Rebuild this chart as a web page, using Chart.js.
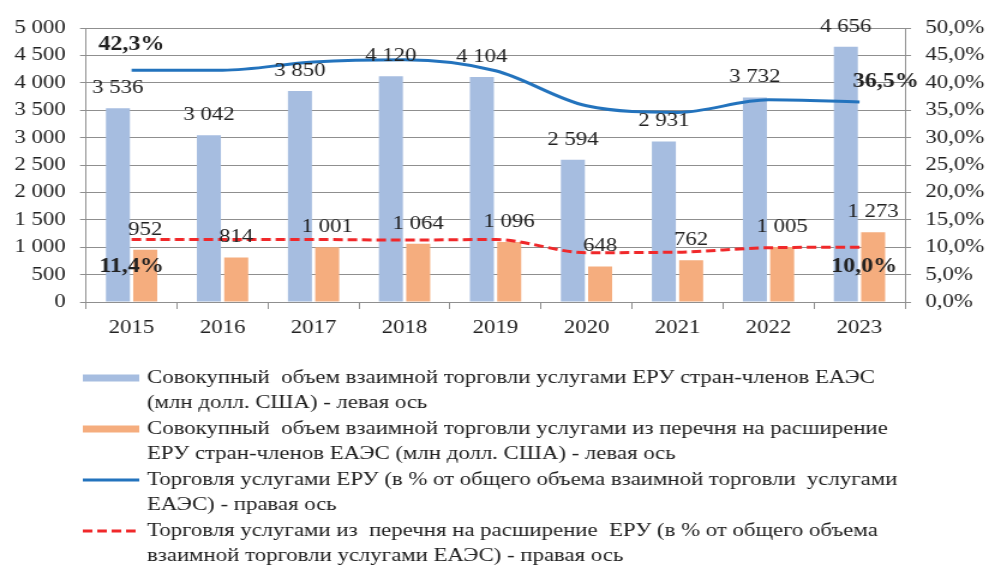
<!DOCTYPE html>
<html>
<head>
<meta charset="utf-8">
<script src="https://cdn.jsdelivr.net/npm/chart.js@4.4.1/dist/chart.umd.min.js"></script>
<style>
  html, body { margin: 0; background: #fff; overflow: hidden; }
  #chart { display: block; }
</style>
</head>
<body>
<!-- The source picture is stretched ~1.2x horizontally, so the canvas is drawn
     narrower and widened by CSS to get the same wide glyphs. -->
<canvas id="chart" width="824" height="568" style="width:989px;height:568px"></canvas>
<script>
const years = ['2015', '2016', '2017', '2018', '2019', '2020', '2021', '2022', '2023'];
const totalEru = [3536, 3042, 3850, 4120, 4104, 2594, 2931, 3732, 4656];   // млн долл. США
const listEru = [952, 814, 1001, 1064, 1096, 648, 762, 1005, 1273];        // млн долл. США
const shareEru = [42.3, 42.3, 43.8, 44.2, 42.2, 35.8, 34.6, 36.9, 36.5];   // %
const shareList = [11.4, 11.4, 11.4, 11.3, 11.4, 9.0, 9.1, 9.9, 10.0];     // %

const leftMax = 5000, leftStep = 500;
const rightMax = 50, rightStep = 5;

const legendLines = [
  ['Совокупный  объем взаимной торговли услугами ЕРУ стран-членов ЕАЭС', '(млн долл. США) - левая ось'],
  ['Совокупный  объем взаимной торговли услугами из перечня на расширение', 'ЕРУ стран-членов ЕАЭС (млн долл. США) - левая ось'],
  ['Торговля услугами ЕРУ (в % от общего объема взаимной торговли  услугами', 'ЕАЭС) - правая ось'],
  ['Торговля услугами из  перечня на расширение  ЕРУ (в % от общего объема', 'взаимной торговли услугами ЕАЭС) - правая ось'],
];

const BLUE_BAR = '#a6bde0', ORANGE_BAR = '#f5ad7e', BLUE_LINE = '#2373bd', RED_LINE = '#f0282a';
const GRID = '#8f8f8f', INK = '#222';
const FONT = '"Liberation Serif", "Times New Roman", serif';

const fmtNum = n => String(n).replace(/\B(?=(\d{3})+(?!\d))/g, ' ');
const fmtPct = v => v.toFixed(1).replace('.', ',') + '%';

Chart.defaults.font.family = FONT;
Chart.defaults.font.size = 19;
Chart.defaults.color = INK;

// Numbers over the bars, and the first/last values of both share lines.
const valueLabels = {
  id: 'valueLabels',
  afterDatasetsDraw(chart) {
    const ctx = chart.ctx;
    ctx.save();
    ctx.fillStyle = INK;
    ctx.textAlign = 'center';
    ctx.textBaseline = 'middle';
    ctx.font = '19px ' + FONT;
    [0, 1].forEach(di => {
      const vals = chart.data.datasets[di].data;
      chart.getDatasetMeta(di).data.forEach((bar, i) => ctx.fillText(fmtNum(vals[i]), bar.x, bar.y - 20));
    });
    ctx.font = 'bold 20px ' + FONT;
    const ends = [
      { ds: 2, i: 0, dx: 0, dy: -25 },
      { ds: 2, i: 8, dx: 22, dy: -20 },
      { ds: 3, i: 0, dx: 0, dy: 27 },
      { ds: 3, i: 8, dx: 4, dy: 20 },
    ];
    ends.forEach(e => {
      const pt = chart.getDatasetMeta(e.ds).data[e.i];
      ctx.fillText(fmtPct(chart.data.datasets[e.ds].data[e.i]), pt.x + e.dx, pt.y + e.dy);
    });
    ctx.restore();
  }
};

// Legend under the plot: two wrapped lines per entry, swatch on the first.
const legendBlock = {
  id: 'legendBlock',
  afterDraw(chart) {
    const ctx = chart.ctx;
    const x0 = 69, x1 = 116, tx = 122.5, step = 25.5;
    let y = 378;
    ctx.save();
    ctx.font = '19px ' + FONT;
    ctx.fillStyle = INK;
    ctx.textAlign = 'left';
    ctx.textBaseline = 'middle';
    legendLines.forEach((lines, k) => {
      const ds = chart.data.datasets[k];
      if (ds.type === 'bar') {
        ctx.fillStyle = ds.backgroundColor;
        ctx.fillRect(x0, y - 3.5, x1 - x0, 7);
      } else {
        ctx.strokeStyle = ds.borderColor;
        ctx.lineWidth = 3;
        ctx.setLineDash(ds.borderDash || []);
        ctx.beginPath(); ctx.moveTo(x0, y); ctx.lineTo(x1, y); ctx.stroke();
        ctx.setLineDash([]);
      }
      ctx.fillStyle = INK;
      lines.forEach((t, j) => ctx.fillText(t, tx, y + j * step));
      y += step * 2;
    });
    ctx.restore();
  }
};

new Chart(document.getElementById('chart'), {
  data: {
    labels: years,
    datasets: [
      { type: 'bar', data: totalEru, backgroundColor: BLUE_BAR, yAxisID: 'y', order: 2,
        categoryPercentage: 0.6, barPercentage: 0.88 },
      { type: 'bar', data: listEru, backgroundColor: ORANGE_BAR, yAxisID: 'y', order: 2,
        categoryPercentage: 0.6, barPercentage: 0.88 },
      { type: 'line', data: shareEru, borderColor: BLUE_LINE, borderWidth: 3, yAxisID: 'y1',
        pointRadius: 0, cubicInterpolationMode: 'monotone', order: 1 },
      { type: 'line', data: shareList, borderColor: RED_LINE, borderWidth: 3, borderDash: [8, 4],
        yAxisID: 'y1', pointRadius: 0, cubicInterpolationMode: 'monotone', order: 1 },
    ]
  },
  options: {
    responsive: false,
    animation: false,
    layout: { padding: { top: 28, left: 0, right: 0, bottom: 0 } },
    plugins: { legend: { display: false }, tooltip: { enabled: false } },
    scales: {
      x: {
        grid: { offset: true, drawOnChartArea: false, color: GRID, tickLength: 7 },
        border: { color: GRID },
        ticks: { padding: 8, font: { size: 19 } },
        afterFit: s => { s.height = 266; },
      },
      y: {
        position: 'left', min: 0, max: leftMax,
        grid: { color: GRID, tickLength: 5 },
        border: { color: GRID },
        ticks: { stepSize: leftStep, padding: 12, callback: v => fmtNum(v) },
        afterFit: s => { s.width = 71.7; },
      },
      y1: {
        position: 'right', min: 0, max: rightMax,
        grid: { drawOnChartArea: false, color: GRID, tickLength: 5 },
        border: { color: GRID },
        ticks: { stepSize: rightStep, padding: 12, callback: v => fmtPct(v) },
        afterFit: s => { s.width = 70; },
      },
    }
  },
  plugins: [valueLabels, legendBlock]
});
</script>
</body>
</html>
